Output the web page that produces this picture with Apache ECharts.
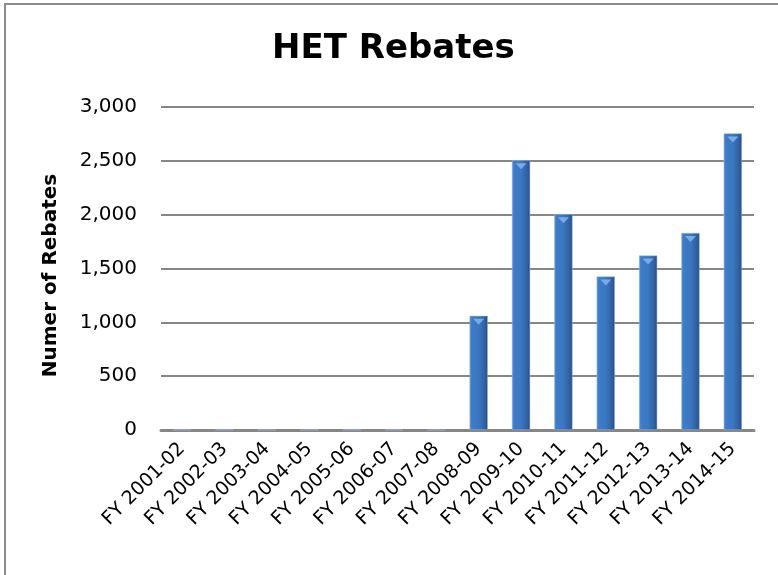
<!DOCTYPE html>
<html>
<head>
<meta charset="utf-8">
<script src="https://cdn.jsdelivr.net/npm/echarts@6/dist/echarts.min.js"></script>
<style>
  html, body { margin: 0; padding: 0; background: #fff; }
  #chart { width: 778px; height: 575px; }
</style>
</head>
<body>
<div id="chart"></div>
<script>
// fiscal years on the x axis
var years = ['FY 2001-02', 'FY 2002-03', 'FY 2003-04', 'FY 2004-05', 'FY 2005-06',
    'FY 2006-07', 'FY 2007-08', 'FY 2008-09', 'FY 2009-10', 'FY 2010-11',
    'FY 2011-12', 'FY 2012-13', 'FY 2013-14', 'FY 2014-15'];
// rebates per year
var rebates = [0, 0, 0, 0, 0, 0, 0, 1060, 2505, 2005, 1425, 1620, 1830, 2755];

var font = 'DejaVu Sans';
var chart = echarts.init(document.getElementById('chart'));

var barColor = new echarts.graphic.LinearGradient(0, 0, 1, 0, [
    {offset: 0, color: '#5b8fcf'},
    {offset: 0.12, color: '#3e7cc8'},
    {offset: 0.5, color: '#3b77c1'},
    {offset: 0.85, color: '#2f60a0'},
    {offset: 1, color: '#234a80'}
]);

chart.setOption({
    animation: false,
    title: {
        text: 'HET Rebates',
        left: 267,
        top: 27,
        textStyle: {fontFamily: font, fontWeight: 'bold', fontSize: 34, color: '#000'}
    },
    graphic: [{
        type: 'rect',
        shape: {x: 5, y: 4, width: 820, height: 620},
        style: {fill: 'none', stroke: '#8c8c8c', lineWidth: 2},
        silent: true
    }],
    grid: {left: 161, right: 24, top: 107, bottom: 145},
    xAxis: {
        type: 'category',
        data: years,
        axisLine: {lineStyle: {color: '#868686', width: 3}},
        axisTick: {show: false},
        axisLabel: {
            rotate: 45, interval: 0, margin: 16,
            fontFamily: font, fontSize: 19, color: '#000'
        }
    },
    yAxis: {
        type: 'value',
        min: 0, max: 3000, interval: 500,
        name: 'Numer of Rebates',
        nameLocation: 'middle',
        nameGap: 100,
        nameTextStyle: {
            fontFamily: font, fontWeight: 'bold', fontSize: 20, color: '#000',
            padding: [0, 14, 0, 0]
        },
        axisLine: {show: false},
        axisTick: {show: false},
        splitLine: {lineStyle: {color: '#868686', width: 2}},
        axisLabel: {
            margin: 24, fontFamily: font, fontSize: 20, color: '#000',
            formatter: function(v) { return v.toLocaleString('en-US'); }
        }
    },
    series: [{
        type: 'bar',
        data: rebates,
        barWidth: '43%',
        itemStyle: {color: barColor, borderColor: '#9bbbe0', borderWidth: 0.5}
    }, {
        // little light cap on top of each bar
        type: 'pictorialBar',
        data: rebates.map(function(v) { return v > 0 ? v : '-'; }),
        symbol: 'triangle',
        symbolRotate: 180,
        symbolSize: [11, 6],
        symbolPosition: 'end',
        symbolOffset: [0, '50%'],
        z: 3,
        itemStyle: {color: '#78ace6'}
    }]
});
</script>
</body>
</html>
